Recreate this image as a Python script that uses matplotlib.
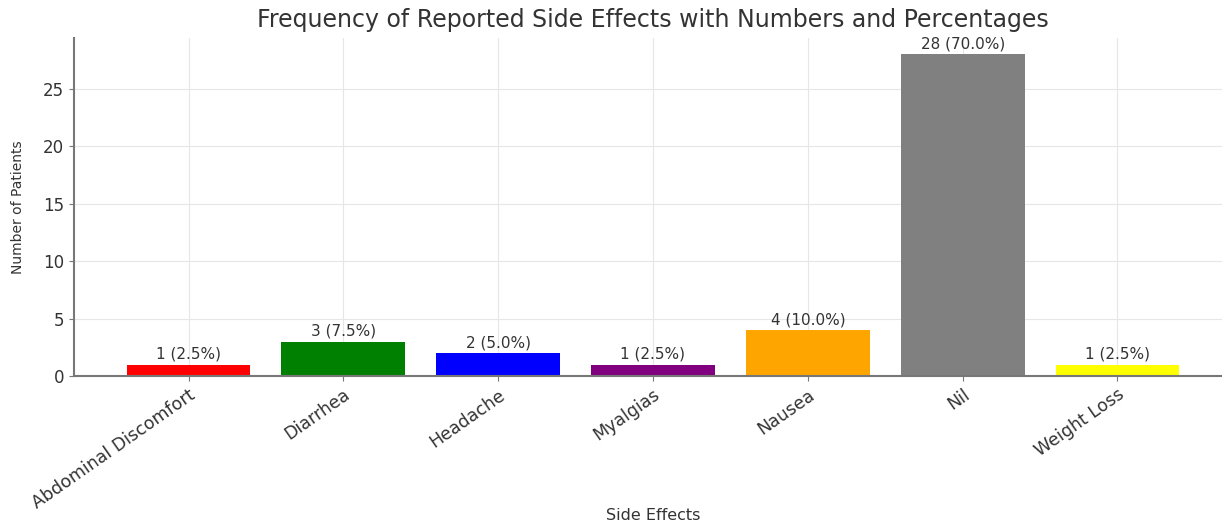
import matplotlib.pyplot as plt

# data
side_effects = ["Abdominal Discomfort", "Diarrhea", "Headache", "Myalgias",
                "Nausea", "Nil", "Weight Loss"]
patients = [1, 3, 2, 1, 4, 28, 1]
percentages = [2.5, 7.5, 5.0, 2.5, 10.0, 70.0, 2.5]
bar_colors = ["red", "green", "blue", "purple", "orange", "gray", "yellow"]

TEXT = "#333333"

fig = plt.figure(figsize=(12.22, 5.26), dpi=100)
ax = fig.add_axes([74 / 1222, 1 - 376 / 526, 1158 / 1222, 338 / 526])

bars = ax.bar(side_effects, patients, color=bar_colors, width=0.8, zorder=2)

for bar, n, pct in zip(bars, patients, percentages):
    ax.annotate(f"{n} ({pct:.1f}%)",
                xy=(bar.get_x() + bar.get_width() / 2, bar.get_height()),
                xytext=(0, 2), textcoords="offset points",
                ha="center", va="bottom", fontsize=11, color=TEXT)

ax.set_title("Frequency of Reported Side Effects with Numbers and Percentages",
             fontsize=17, color=TEXT, pad=8)
ax.set_xlabel("Side Effects", fontsize=11.5, color=TEXT, labelpad=-3)
ax.set_ylabel("Number of Patients", fontsize=10, color=TEXT, labelpad=13)

ax.grid(True, color="#e6e6e6", linewidth=0.8, zorder=0)
ax.set_axisbelow(True)
for side in ["top", "right"]:
    ax.spines[side].set_visible(False)
for side in ["left", "bottom"]:
    ax.spines[side].set_color("#777777")
    ax.spines[side].set_linewidth(1.5)

ax.tick_params(axis="both", colors="#777777", labelcolor=TEXT, labelsize=12)
plt.setp(ax.get_xticklabels(), rotation=35, ha="right", fontsize=12.5,
         rotation_mode="anchor")

fig.savefig("out.png", dpi=100)
